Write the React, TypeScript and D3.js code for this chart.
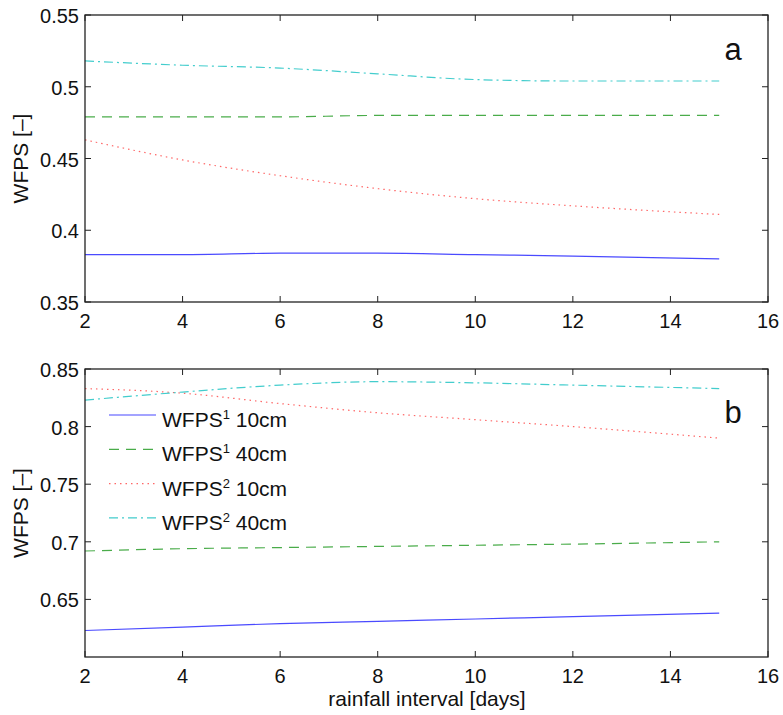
import { scaleLinear, line, curveMonotoneX } from 'd3'

const width = 783
const height = 715

// rainfall interval [days]
const days = [2, 4, 6, 8, 10, 12, 15]
const xTicks = [2, 4, 6, 8, 10, 12, 14, 16]

// panel a
const aW1_10 = [0.383, 0.383, 0.384, 0.384, 0.383, 0.382, 0.380]
const aW1_40 = [0.479, 0.479, 0.479, 0.480, 0.480, 0.480, 0.480]
const aW2_10 = [0.463, 0.449, 0.438, 0.429, 0.422, 0.417, 0.411]
const aW2_40 = [0.518, 0.515, 0.513, 0.509, 0.505, 0.504, 0.504]
const aTicks = [0.35, 0.4, 0.45, 0.5, 0.55]

// panel b
const bW1_10 = [0.623, 0.626, 0.629, 0.631, 0.633, 0.635, 0.638]
const bW1_40 = [0.692, 0.694, 0.695, 0.696, 0.697, 0.698, 0.700]
const bW2_10 = [0.833, 0.829, 0.820, 0.812, 0.806, 0.800, 0.790]
const bW2_40 = [0.823, 0.830, 0.836, 0.839, 0.838, 0.836, 0.833]
const bTicks = [0.65, 0.7, 0.75, 0.8, 0.85]

const legendLabels = ['10cm', '40cm', '10cm', '40cm']
const legendSup = ['1', '1', '2', '2']

const styles = [
  { stroke: '#2a2aff', dash: 'none' },
  { stroke: '#2a9e2a', dash: '10,7' },
  { stroke: '#ff4d4d', dash: '1.5,4' },
  { stroke: '#22c4c4', dash: '9,4,2,4' },
]

const font = 'Liberation Sans, Arial, Helvetica, sans-serif'
const fs = 20
const x0 = 85
const x1 = 768

const Panel = ({ top, bottom, domain, ticks, series, letter, letterY, legend }) => {
  const x = scaleLinear().domain([2, 16]).range([x0, x1])
  const y = scaleLinear().domain(domain).range([bottom, top])
  const mk = line().x((d, i) => x(days[i])).y(d => y(d)).curve(curveMonotoneX)
  return (
    <g>
      {series.map((s, i) => (
        <path key={i} d={mk(s)} fill="none" stroke={styles[i].stroke}
          strokeDasharray={styles[i].dash} strokeWidth={1.2} opacity={0.85} />
      ))}
      <rect x={x0} y={top} width={x1 - x0} height={bottom - top} fill="none" stroke="#222" strokeWidth={1.3} />
      {xTicks.map(t => (
        <g key={t}>
          <line x1={x(t)} x2={x(t)} y1={bottom} y2={bottom - 6} stroke="#222" />
          <line x1={x(t)} x2={x(t)} y1={top} y2={top + 6} stroke="#222" />
          <text x={x(t)} y={bottom + 26} textAnchor="middle" fontSize={fs} fontFamily={font} fill="#111">{t}</text>
        </g>
      ))}
      {ticks.map(t => (
        <g key={t}>
          <line x1={x0} x2={x0 + 6} y1={y(t)} y2={y(t)} stroke="#222" />
          <line x1={x1} x2={x1 - 6} y1={y(t)} y2={y(t)} stroke="#222" />
          <text x={x0 - 6} y={y(t) + 8} textAnchor="end" fontSize={fs} fontFamily={font} fill="#111">{String(t)}</text>
        </g>
      ))}
      <text transform={`translate(28,${(top + bottom) / 2}) rotate(-90)`} textAnchor="middle"
        fontSize={21} fontFamily={font} fill="#111">WFPS [–]</text>
      <text x={733} y={letterY} textAnchor="middle" fontSize={31} fontFamily={font} fill="#111">{letter}</text>
      {legend && styles.map((s, i) => {
        const ly = 415 + i * 34.3
        return (
          <g key={i}>
            <line x1={109} x2={156} y1={ly} y2={ly} stroke={s.stroke} strokeDasharray={s.dash} strokeWidth={1.2} opacity={0.85} />
            <text x={162} y={ly + 12} fontSize={21} fontFamily={font} fill="#111">
              WFPS<tspan dy={-8} fontSize={13}>{legendSup[i]}</tspan><tspan dy={8}> {legendLabels[i]}</tspan>
            </text>
          </g>
        )
      })}
    </g>
  )
}

const App = () => {
  return (
    <svg width={width} height={height} style={{ position: 'absolute', left: 0, top: 0, background: '#fff' }}>
      <Panel top={15} bottom={302} domain={[0.35, 0.55]} ticks={aTicks}
        series={[aW1_10, aW1_40, aW2_10, aW2_40]} letter="a" letterY={60} legend={false} />
      <Panel top={369} bottom={657} domain={[0.6, 0.85]} ticks={bTicks}
        series={[bW1_10, bW1_40, bW2_10, bW2_40]} letter="b" letterY={423} legend={true} />
      <text x={427} y={706} textAnchor="middle" fontSize={21} fontFamily={font} fill="#111">rainfall interval [days]</text>
    </svg>
  )
}

export default App
